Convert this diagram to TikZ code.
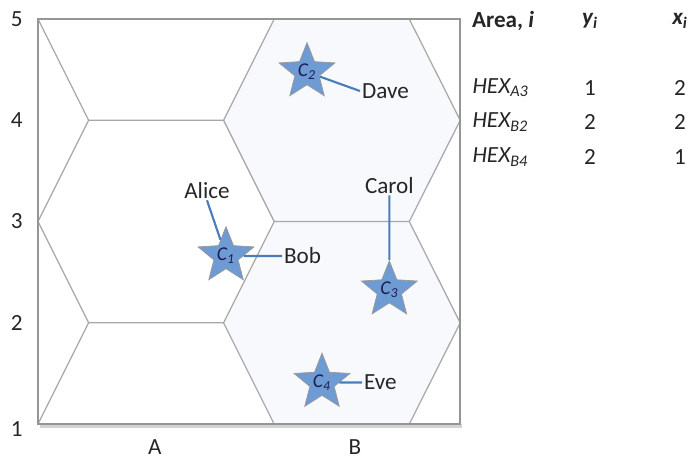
\documentclass[tikz,border=0pt]{standalone}
\usepackage{fontspec}
\setmainfont{Carlito}
\usetikzlibrary{shapes.geometric}

\definecolor{hexgray}{HTML}{A8A8A8}
\definecolor{framegray}{HTML}{959595}
\definecolor{linkblue}{HTML}{4A7EBB}
\definecolor{starblue}{HTML}{6E9BD3}
\definecolor{tint}{HTML}{F8F9FC}
\definecolor{ink}{HTML}{262626}

\begin{document}
\begin{tikzpicture}[x=2cm,y=2cm,
  hexline/.style={hexgray,line width=0.7pt},
  site/.style={star,star points=5,star point ratio=2.3,minimum size=0.6cm,
    inner sep=0pt,draw=gray!80,fill=starblue,
    font=\fontsize{11}{12}\selectfont\itshape\color{ink!80!blue}},
  person/.style={font=\fontsize{13}{15}\selectfont,text=ink,inner sep=1pt},
  tick/.style={font=\fontsize{13}{15}\selectfont,text=ink},
  cell/.style={font=\fontsize{13}{15}\selectfont,text=ink},
  link/.style={linkblue,line width=1.2pt}]
  \useasboundingbox (-0.375,0.664) rectangle (6.459,5.188);
  % light fill of the two hexagons in column B
  \fill[tint] (1.833,4) -- (2.333,5) -- (3.667,5) -- (4.17,4) -- (3.667,3) -- (2.333,3) -- cycle;
  \fill[tint] (1.833,2) -- (2.333,3) -- (3.667,3) -- (4.17,2) -- (3.667,1) -- (2.333,1) -- cycle;
  % hexagon grid, column A
  \draw[hexline] (0,5) -- (0.5,4) -- (1.833,4) -- (2.333,5);
  \draw[hexline] (0.5,4) -- (0,3) -- (0.5,2) -- (1.833,2) -- (2.333,3) -- (1.833,4);
  \draw[hexline] (0,1) -- (0.5,2);
  \draw[hexline] (1.833,2) -- (2.333,1);
  % hexagon grid, column B
  \draw[hexline] (3.667,5) -- (4.17,4) -- (3.667,3) -- (2.333,3);
  \draw[hexline] (3.667,3) -- (4.17,2) -- (3.667,1);
  % frame
  \draw[gray!35,line width=2.2pt] (0.02,0.985) -- (4.19,0.985);
  \draw[framegray,line width=1pt] (0,1) rectangle (4.17,5);

  % axis labels
  \node[tick] (y5) at (-0.21,5) {5};
  \node[tick] (y4) at (-0.21,4) {4};
  \node[tick] (y3) at (-0.21,3) {3};
  \node[tick] (y2) at (-0.21,2) {2};
  \node[tick] (y1) at (-0.21,0.95) {1};
  \node[tick] (xa) at (1.155,0.77) {A};
  \node[tick] (xb) at (3.13,0.77) {B};

  % customers
  \node[site] (c1) at (1.857,2.66) {C\textsubscript{1}};
  \node[site] (c2) at (2.657,4.477) {C\textsubscript{2}};
  \node[site] (c3) at (3.47,2.323) {C\textsubscript{3}};
  \node[site] (c4) at (2.805,1.41) {C\textsubscript{4}};

  \node[person] (alice) at (1.669,3.311) {Alice};
  \node[person,anchor=west] (bob) at (2.41,2.66) {Bob};
  \node[person] (carol) at (3.47,3.36) {Carol};
  \node[person,anchor=west] (dave) at (3.18,4.289) {Dave};
  \node[person,anchor=west] (eve) at (3.2,1.41) {Eve};

  \draw[link] (alice.south) -- (c1);
  \draw[link] (c1) -- (bob.west);
  \draw[link] (carol.south) -- (c3);
  \draw[link] (c2) -- (dave.west);
  \draw[link] (c4) -- (eve.west);

  % table of areas
  \node[cell] (area) at (4.593,4.98) {\textbf{Area, \textit{i}}};
  \node[cell] (yhead) at (5.452,4.98) {\textbf{\textit{y\textsubscript{i}}}};
  \node[cell] (xhead) at (6.341,4.98) {\textbf{\textit{x\textsubscript{i}}}};
  \node[cell,anchor=west] (hexa3) at (4.23,4.319) {\textit{HEX\textsubscript{A3}}};
  \node[cell,anchor=west] (hexb2) at (4.23,3.983) {\textit{HEX\textsubscript{B2}}};
  \node[cell,anchor=west] (hexb4) at (4.23,3.637) {\textit{HEX\textsubscript{B4}}};
  \node[cell] (ya3) at (5.452,4.319) {1};
  \node[cell] (yb2) at (5.452,3.983) {2};
  \node[cell] (yb4) at (5.452,3.637) {2};
  \node[cell] (xa3) at (6.341,4.319) {2};
  \node[cell] (xb2) at (6.341,3.983) {2};
  \node[cell] (xb4) at (6.341,3.637) {1};
\end{tikzpicture}
\end{document}
